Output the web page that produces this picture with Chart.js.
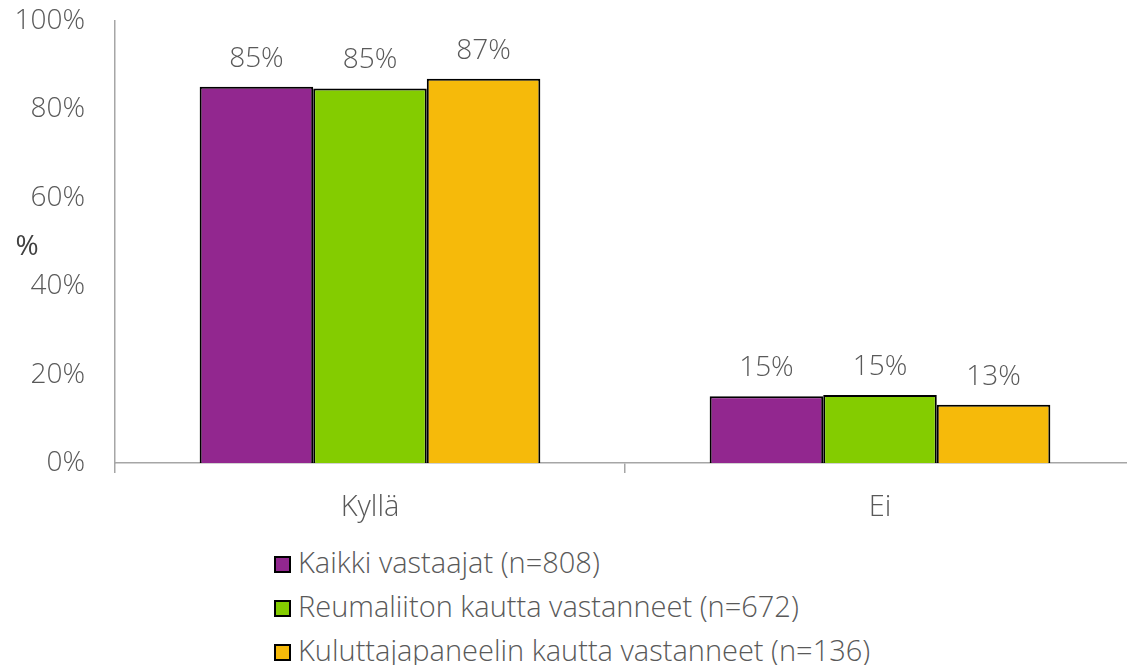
<!DOCTYPE html>
<html>
<head>
<meta charset="utf-8">
<script src="https://cdn.jsdelivr.net/npm/chart.js@4"></script>
<style>
  html, body { margin: 0; padding: 0; background: #fff; overflow: hidden; }
  #wrap { position: relative; width: 1127px; height: 665px; overflow: hidden; }
  #myChart { position: absolute; left: 0; top: -26px; }
  #legend { position: absolute; left: 274px; top: 540px; font-family: "Open Sans", sans-serif; font-weight: 300;
            font-size: 29px; color: #595959; }
  #legend div { height: 44px; line-height: 44px; white-space: nowrap; }
  #legend span.box { display: inline-block; width: 13px; height: 13px; border: 2px solid #000;
                     margin-right: 7px; vertical-align: 0px; }
</style>
</head>
<body>
<div id="wrap">
  <canvas id="myChart" width="1135" height="566"></canvas>
  <div id="legend"></div>
</div>
<script>
/*----------- data ------------ */
const labels = ['Kyllä', 'Ei'];
const seriesNames = [
    'Kaikki vastaajat (n=808)',
    'Reumaliiton kautta vastanneet (n=672)',
    'Kuluttajapaneelin kautta vastanneet (n=136)',
];
const kaikki = [85.1, 15.1];
const reumaliitto = [84.7, 15.4];
const kuluttaja = [86.9, 13.2];
const yTicks = [0, 20, 40, 60, 80, 100];

const colors = ['#92278F', '#84CC00', '#F6BA0A'];
const textColor = '#595959';
const fontFamily = '"Open Sans", sans-serif';
const fontSize = 28;

const data = {
    labels: labels,
    datasets: [kaikki, reumaliitto, kuluttaja].map((vals, i) => ({
        label: seriesNames[i],
        data: vals,
        backgroundColor: colors[i],
        borderColor: '#000',
        borderWidth: 2,
        borderSkipped: 'bottom',
        categoryPercentage: 0.668,
        barPercentage: 1.0,
    }))
};

// value labels above bars + the "%" axis title
const extras = {
    id: 'extras',
    afterDatasetsDraw(chart) {
        const ctx = chart.ctx;
        ctx.save();
        ctx.fillStyle = textColor;
        ctx.font = '300 ' + fontSize + 'px ' + fontFamily;
        ctx.textAlign = 'center';
        ctx.textBaseline = 'middle';
        chart.data.datasets.forEach((ds, i) => {
            chart.getDatasetMeta(i).data.forEach((bar, j) => {
                ctx.fillText(Math.round(ds.data[j]) + '%', bar.x, bar.y - 28);
            });
        });
        // "%" title sits beside the axis, not rotated
        ctx.fillStyle = '#404040';
        ctx.font = '400 28px ' + fontFamily;
        ctx.fillText('%', 27, chart.chartArea.top + 226);
        ctx.restore();
    }
};

const config = {
    type: 'bar',
    data: data,
    options: {
        responsive: false,
        animation: false,
        layout: { padding: 0 },
        plugins: {
            legend: { display: false },
            tooltip: { enabled: false },
        },
        scales: {
            x: {
                grid: {
                    display: true,
                    drawOnChartArea: false,
                    drawTicks: true,
                    tickLength: 10,
                    color: '#a6a6a6',
                    lineWidth: 1.5,
                },
                border: { display: true, color: '#a6a6a6', width: 1.5 },
                ticks: { color: textColor, font: { family: fontFamily, size: 29, weight: 300 }, padding: 17 },
                afterFit(scale) { scale.height = 77; },
            },
            y: {
                min: 0,
                max: 100,
                afterBuildTicks(scale) { scale.ticks = yTicks.map(v => ({ value: v })); },
                grid: { display: false, drawTicks: false },
                border: { display: true, color: '#a6a6a6', width: 1.5 },
                ticks: {
                    color: textColor,
                    font: { family: fontFamily, size: fontSize, weight: 300 },
                    padding: 30,
                    callback: v => v + '%',
                },
                afterFit(scale) { scale.width = 115; },
            }
        }
    },
    plugins: [extras],
};

const myChart = new Chart(document.getElementById('myChart'), config);

// legend as a vertical list
const legend = document.getElementById('legend');
seriesNames.forEach((name, i) => {
    const row = document.createElement('div');
    const box = document.createElement('span');
    box.className = 'box';
    box.style.background = colors[i];
    row.appendChild(box);
    row.appendChild(document.createTextNode(name));
    legend.appendChild(row);
});
</script>
</body>
</html>
